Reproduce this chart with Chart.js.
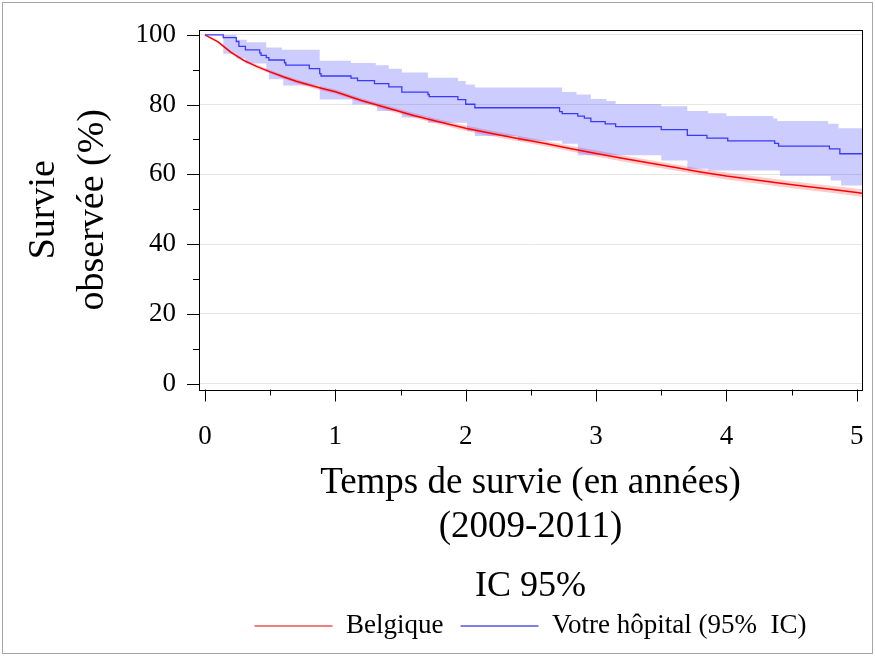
<!DOCTYPE html>
<html>
<head>
<meta charset="utf-8">
<title>Survie observée</title>
<script src="https://cdn.jsdelivr.net/npm/chart.js@4.4.1/dist/chart.umd.min.js"></script>
<style>
  body { margin: 0; background: #fff; }
  canvas { display: block; }
</style>
</head>
<body>
<canvas id="survivalChart" width="875" height="656"></canvas>
<script>
// Belgique: observed survival with its band
const belgTime = [0, 0.1, 0.2, 0.3, 0.4, 0.5, 0.6, 0.7, 0.8, 0.9, 1.0, 1.2, 1.4, 1.6, 1.8, 2.0, 2.2, 2.4, 2.6, 2.8, 3.0, 3.2, 3.4, 3.6, 3.8, 4.0, 4.2, 4.4, 4.6, 4.8, 5.0, 5.04];
const belgSurv = [100, 98.0, 95.0, 92.6, 90.9, 89.4, 88.0, 86.7, 85.6, 84.6, 83.7, 81.2, 79.0, 76.9, 75.0, 73.2, 71.7, 70.3, 68.9, 67.4, 66.0, 64.6, 63.3, 62.0, 60.7, 59.5, 58.5, 57.5, 56.6, 55.7, 54.8, 54.6];
const belgLow = [100, 97.7, 94.6, 92.2, 90.4, 88.9, 87.5, 86.1, 85.0, 84.0, 83.1, 80.6, 78.3, 76.2, 74.3, 72.4, 70.9, 69.5, 68.1, 66.6, 65.1, 63.7, 62.4, 61.1, 59.8, 58.5, 57.5, 56.5, 55.6, 54.7, 53.7, 53.5];
const belgHigh = [100, 98.3, 95.4, 93.0, 91.4, 89.9, 88.5, 87.3, 86.2, 85.2, 84.3, 81.8, 79.7, 77.6, 75.7, 74.0, 72.5, 71.1, 69.7, 68.2, 66.9, 65.5, 64.2, 62.9, 61.6, 60.5, 59.5, 58.5, 57.6, 56.7, 55.9, 55.7];

// Votre hôpital: Kaplan-Meier steps (level reached at each time)
const hospTime = [0, 0.14, 0.24, 0.26, 0.31, 0.42, 0.43, 0.47, 0.49, 0.61, 0.62, 0.80, 0.88, 0.89, 1.12, 1.17, 1.30, 1.41, 1.51, 1.71, 1.72, 1.94, 2.00, 2.07, 2.72, 2.74, 2.86, 2.91, 2.96, 3.07, 3.15, 3.50, 3.70, 3.85, 4.01, 4.37, 4.40, 4.79, 4.87, 5.04];
const hospSurv = [100, 99.2, 98.1, 96.7, 95.7, 94.8, 94.1, 93.5, 92.8, 92.0, 91.3, 90.3, 88.9, 88.2, 87.6, 86.9, 86.0, 85.1, 83.6, 82.9, 82.3, 81.4, 80.1, 79.1, 78.0, 77.4, 76.7, 76.1, 75.1, 74.5, 73.7, 72.8, 71.2, 70.4, 69.6, 68.9, 68.1, 67.3, 65.9, 65.9];
const hospUpTime = [0, 0.24, 0.32, 0.47, 0.59, 0.88, 1.12, 1.31, 1.41, 1.51, 1.71, 1.94, 2.00, 2.07, 2.74, 2.85, 2.96, 3.08, 3.15, 3.50, 3.70, 3.86, 4.00, 4.36, 4.39, 4.78, 4.86, 5.04];
const hospUp = [100, 98.6, 97.9, 96.4, 95.7, 92.6, 91.9, 91.3, 90.3, 89.2, 87.7, 86.8, 85.8, 84.9, 83.6, 82.9, 81.6, 81.0, 80.2, 79.5, 78.2, 77.5, 76.7, 76.0, 75.3, 74.5, 73.2, 73.2];
const hospLowTime = [0, 0.14, 0.24, 0.31, 0.47, 0.49, 0.60, 0.88, 1.13, 1.32, 1.51, 1.71, 2.01, 2.07, 2.40, 2.74, 2.86, 3.50, 3.70, 3.86, 4.41, 4.80, 4.88, 5.04];
const hospLow = [100, 94.6, 93.2, 91.8, 89.4, 87.3, 85.5, 81.5, 80.0, 78.2, 76.3, 74.8, 72.4, 71.0, 69.6, 68.8, 65.5, 64.0, 61.6, 61.1, 59.5, 58.2, 56.8, 56.8];

const xTicks = [0, 0.5, 1, 1.5, 2, 2.5, 3, 3.5, 4, 4.5, 5];
const yTicks = [0, 10, 20, 30, 40, 50, 60, 70, 80, 90, 100];

function points(xs, ys) {
    return xs.map((x, i) => ({ x: x, y: ys[i] }));
}

// keep the plot box where it is: no extra room for overhanging tick labels
function noLabelPadding(s) {
    s.paddingLeft = 0;
    s.paddingRight = 0;
    s.paddingTop = 0;
    s.paddingBottom = 0;
}

Chart.defaults.font.family = "'Liberation Serif', 'Times New Roman', serif";
Chart.defaults.color = '#000';

// frame, plot box and tick marks (major and minor ticks have different lengths)
const framePlugin = {
    id: 'frame',
    beforeDraw(chart) {
        const ctx = chart.ctx;
        ctx.save();
        ctx.fillStyle = '#fff';
        ctx.fillRect(0, 0, chart.width, chart.height);
        ctx.strokeStyle = '#a6a6a6';
        ctx.lineWidth = 1;
        ctx.strokeRect(2.5, 2.5, chart.width - 5, chart.height - 5);
        ctx.restore();
    },
    afterDraw(chart) {
        const ctx = chart.ctx;
        const a = chart.chartArea;
        const x = chart.scales.x;
        const y = chart.scales.y;
        ctx.save();
        ctx.strokeStyle = '#000';
        ctx.lineWidth = 1;
        ctx.beginPath();
        yTicks.forEach(v => {
            const py = Math.round(y.getPixelForValue(v)) + 0.5;
            const len = v % 20 === 0 ? 12 : 6;
            ctx.moveTo(a.left - len, py);
            ctx.lineTo(a.left, py);
        });
        xTicks.forEach(v => {
            const px = Math.round(x.getPixelForValue(v)) + 0.5;
            const len = Number.isInteger(v) ? 12 : 6;
            ctx.moveTo(px, a.bottom);
            ctx.lineTo(px, a.bottom + len);
        });
        ctx.stroke();
        ctx.strokeRect(Math.round(a.left) + 0.5, Math.round(a.top) + 0.5,
            Math.round(a.right - a.left), Math.round(a.bottom - a.top));
        ctx.restore();
    }
};

const ctx = document.getElementById('survivalChart').getContext('2d');
new Chart(ctx, {
    type: 'line',
    data: {
        datasets: [
            {
                label: 'Votre hôpital',
                data: points(hospTime, hospSurv),
                stepped: true,
                borderColor: '#3a3aff',
                borderWidth: 1.3,
                pointRadius: 0,
                fill: false,
            },
            {
                label: 'Belgique',
                data: points(belgTime, belgSurv),
                borderColor: '#ff0000',
                borderWidth: 1.5,
                pointRadius: 0,
                fill: false,
            },
            {
                label: 'IC haut hôpital',
                data: points(hospUpTime, hospUp),
                stepped: true,
                borderColor: 'rgba(0,0,0,0)',
                borderWidth: 0,
                pointRadius: 0,
                backgroundColor: 'rgba(0,0,255,0.2)',
                fill: '+1',
            },
            {
                label: 'IC bas hôpital',
                data: points(hospLowTime, hospLow),
                stepped: true,
                borderColor: 'rgba(0,0,0,0)',
                borderWidth: 0,
                pointRadius: 0,
                fill: false,
            },
            {
                label: 'IC haut Belgique',
                data: points(belgTime, belgHigh),
                borderColor: 'rgba(0,0,0,0)',
                borderWidth: 0,
                pointRadius: 0,
                backgroundColor: 'rgba(255,0,0,0.2)',
                fill: '+1',
            },
            {
                label: 'IC bas Belgique',
                data: points(belgTime, belgLow),
                borderColor: 'rgba(0,0,0,0)',
                borderWidth: 0,
                pointRadius: 0,
                fill: false,
            },
        ],
    },
    options: {
        responsive: false,
        animation: false,
        events: [],
        layout: { padding: { top: 30, right: 13, bottom: 6.5, left: 0 } },
        scales: {
            x: {
                type: 'linear',
                min: -0.046,
                max: 5.04,
                afterBuildTicks: s => { s.ticks = xTicks.map(v => ({ value: v })); },
                afterFit: s => { s.height = 160; noLabelPadding(s); },
                grid: { display: false, drawTicks: false },
                border: { display: false },
                ticks: {
                    autoSkip: false,
                    maxRotation: 0,
                    padding: 31,
                    font: { size: 27 },
                    callback: v => Number.isInteger(v) ? v : '',
                },
                title: {
                    display: true,
                    text: ['Temps de survie (en années)', '(2009-2011)'],
                    font: { size: 37 },
                    padding: 0,
                },
            },
            y: {
                type: 'linear',
                min: -1.72,
                max: 101.4,
                afterBuildTicks: s => { s.ticks = yTicks.map(v => ({ value: v })); },
                afterFit: s => { s.width = 199; noLabelPadding(s); },
                grid: {
                    color: c => (c.tick && c.tick.value % 20 === 0) ? '#e6e6e6' : 'rgba(0,0,0,0)',
                    drawTicks: false,
                },
                border: { display: false },
                ticks: {
                    autoSkip: false,
                    padding: 23,
                    font: { size: 27 },
                    callback: v => v % 20 === 0 ? v : '',
                },
                title: {
                    display: true,
                    text: ['Survie', 'observée (%)'],
                    font: { size: 38, lineHeight: 1.3 },
                    padding: { top: 19, bottom: 0 },
                },
            },
        },
        plugins: {
            tooltip: { enabled: false },
            legend: {
                position: 'bottom',
                fullSize: false,
                title: {
                    display: true,
                    text: 'IC 95%',
                    color: '#000',
                    font: { size: 36, lineHeight: 0.75 },
                    padding: { top: 19, bottom: 0 },
                },
                labels: {
                    boxWidth: 78,
                    boxHeight: 1,
                    padding: 17,
                    font: { size: 27 },
                    generateLabels: () => [
                        { text: 'Belgique', fillStyle: '#e00000', strokeStyle: '#e00000', lineWidth: 0, hidden: false, datasetIndex: 1 },
                        { text: 'Votre hôpital (95%  IC)', fillStyle: '#0000cc', strokeStyle: '#0000cc', lineWidth: 0, hidden: false, datasetIndex: 0 },
                    ],
                },
            },
        },
    },
    plugins: [framePlugin],
});
</script>
</body>
</html>
